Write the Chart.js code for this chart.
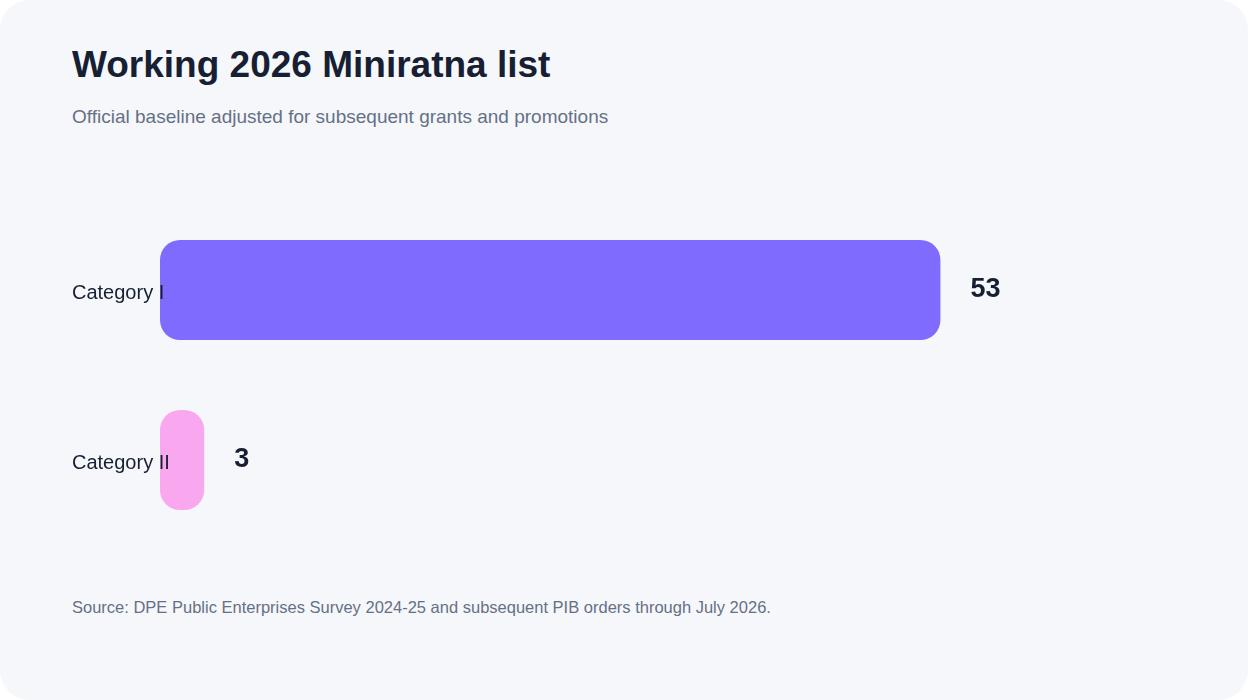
<!DOCTYPE html>
<html><head><meta charset="utf-8">
<script src="https://cdn.jsdelivr.net/npm/chart.js@4"></script>
<style>
html,body{margin:0;padding:0;background:#fff;width:1248px;height:700px;overflow:hidden;font-family:"Liberation Sans",Arial,sans-serif}
#card{position:absolute;left:0;top:0;width:1248px;height:700px;background:#f5f7fb;border-radius:30px}
h1{position:absolute;left:72px;top:44px;margin:0;font-size:37px;font-weight:700;color:#172033}
p.sub{position:absolute;left:72px;top:106px;margin:0;font-size:19px;color:#667085}
p.src{position:absolute;left:72px;top:598px;margin:0;font-size:16.5px;color:#667085}
#wrap{position:absolute;left:0;top:205px;width:1248px;height:340px}
</style></head><body>
<div id="card">
<h1>Working 2026 Miniratna list</h1>
<p class="sub">Official baseline adjusted for subsequent grants and promotions</p>
<div id="wrap"><canvas id="c"></canvas></div>
<p class="src">Source: DPE Public Enterprises Survey 2024-25 and subsequent PIB orders through July 2026.</p>
</div>
<script>
const categories=["Category I","Category II"];
const values=[53,3];
const colors=["#7f6cff","#f9a8ef"];
const labelPlugin={id:"lbl",afterDatasetsDraw(chart){
 const ctx=chart.ctx;const meta=chart.getDatasetMeta(0);
 ctx.save();ctx.textBaseline="middle";
 meta.data.forEach((bar,i)=>{
  ctx.font="20px 'Liberation Sans', Arial";ctx.fillStyle="#172033";ctx.textAlign="left";
  ctx.fillText(categories[i],72,bar.y+3);
  ctx.font="bold 27px 'Liberation Sans', Arial";
  ctx.fillText(String(values[i]),bar.x+30,bar.y);
 });ctx.restore();}};
new Chart(document.getElementById("c"),{type:"bar",
 data:{labels:categories,datasets:[{data:values,backgroundColor:colors,borderRadius:20,borderSkipped:false,categoryPercentage:1,barPercentage:100/170}]},
 options:{indexAxis:"y",responsive:true,maintainAspectRatio:false,animation:false,
  layout:{padding:{left:160,right:72,top:0,bottom:0}},
  plugins:{legend:{display:false},tooltip:{enabled:false}},
  scales:{x:{display:false,min:0,max:69},y:{display:false}}},
 plugins:[labelPlugin]});
</script></body></html>
